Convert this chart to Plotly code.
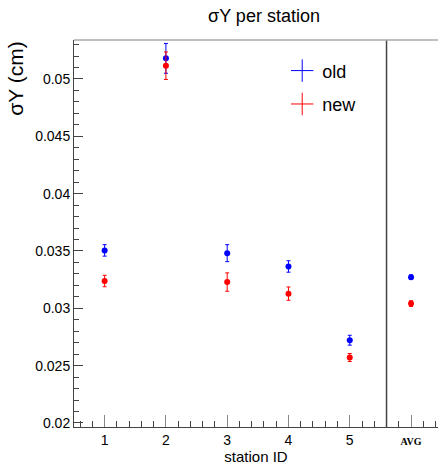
import plotly.graph_objects as go

# posiciones de las estaciones (6 = promedio)
station_pos = [1, 2, 3, 4, 5, 6]
station_labels = ['1', '2', '3', '4', '5',
                  '<span style="font-family:Liberation Serif;font-size:10px;font-weight:bold">AVG</span>']

old_sigma = [0.03505, 0.05180, 0.03481, 0.03365, 0.02722, 0.03272]
old_err = [0.00050, 0.00130, 0.00074, 0.00050, 0.00043, 0.00020]

new_sigma = [0.03238, 0.05116, 0.03229, 0.03128, 0.02571, 0.03041]
new_err = [0.00050, 0.00120, 0.00080, 0.00058, 0.00035, 0.00025]

separator_x = 5.6

fig = go.Figure()

for nombre, vals, errs, color in [('old', old_sigma, old_err, '#0000ff'),
                                  ('new', new_sigma, new_err, '#ff0000')]:
    fig.add_trace(go.Scatter(
        x=station_pos, y=vals, mode='markers', showlegend=False,
        marker=dict(color=color, size=6),
        error_y=dict(type='data', array=errs, color=color, thickness=1, width=2),
    ))
    # entrada de leyenda con forma de cruz
    fig.add_trace(go.Scatter(
        x=[None], y=[None], mode='markers', name=nombre, legendgroup=nombre,
        marker=dict(symbol='cross-thin', size=16, line=dict(color=color, width=1)),
    ))

fig.add_shape(type='line', xref='x', yref='paper', x0=separator_x, x1=separator_x,
              y0=0, y1=1, line=dict(color='#444', width=1.5))
fig.add_shape(type='line', xref='paper', yref='paper', x0=0, x1=1, y0=1, y1=1,
              line=dict(color='#aaa', width=1.5))

fig.add_annotation(text='σY (cm)', xref='paper', yref='paper', x=-0.2, y=1.0,
                   xanchor='left', yanchor='top', textangle=-90, showarrow=False,
                   font=dict(size=21, color='black'))

fig.update_xaxes(
    range=[0.5, 6.44], tickvals=station_pos, ticktext=station_labels,
    ticks='inside', ticklen=12, tickcolor='#888', showline=True, linecolor='#444',
    linewidth=1, showgrid=False, zeroline=False,
    minor=dict(dtick=0.2, tick0=0.6, ticks='inside', ticklen=6, tickcolor='#444'),
    title=dict(text='station ID', font=dict(size=15, color='black'), standoff=8),
    tickfont=dict(size=14, color='black'),
)
fig.update_yaxes(
    range=[0.01965, 0.0534], dtick=0.005, tick0=0.02,
    ticks='inside', ticklen=9, tickcolor='#444', showline=True, linecolor='#444',
    linewidth=1, showgrid=False, zeroline=False,
    minor=dict(dtick=0.001, ticks='inside', ticklen=5, tickcolor='#444'),
    tickfont=dict(size=14, color='black'),
)

fig.update_layout(
    width=438, height=465,
    margin=dict(l=74, r=0, t=40, b=38),
    paper_bgcolor='white', plot_bgcolor='white',
    font=dict(family='Liberation Sans, Arial, sans-serif', color='black'),
    title=dict(text='σY per station', x=264 / 438, xanchor='center', y=1 - 16 / 465,
               yanchor='middle', font=dict(size=18, color='black')),
    legend=dict(x=0.572, y=0.968, xanchor='left', yanchor='top', bgcolor='rgba(0,0,0,0)',
                font=dict(size=18), tracegroupgap=7),
)

# quitar el margen por defecto del body para que la figura empiece en (0, 0)
fig.write_html('out.html', config={'displayModeBar': False},
               post_script="document.body.style.margin='0';")
